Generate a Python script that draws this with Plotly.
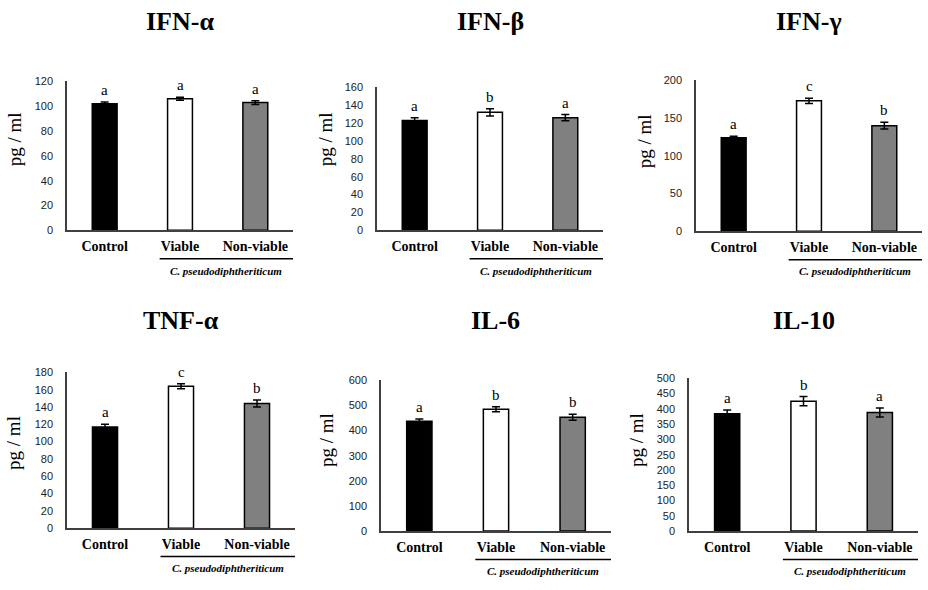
import plotly.graph_objects as go
from plotly.subplots import make_subplots

# data
groups = ["Control", "Viable", "Non-viable"]
cytokines = ["IFN-α", "IFN-β", "IFN-γ", "TNF-α", "IL-6", "IL-10"]
ifn_a = [102, 106, 103]
ifn_a_err = [1.5, 1.2, 1.5]
ifn_b = [123, 132, 126]
ifn_b_err = [3, 4, 3.5]
ifn_g = [124, 173, 140]
ifn_g_err = [2, 3.5, 4.5]
tnf_a = [117, 164, 144]
tnf_a_err = [3, 3, 4]
il6 = [437, 485, 453]
il6_err = [9, 10, 12]
il10 = [384, 425, 388]
il10_err = [12, 15, 15]
letters = [["a", "a", "a"], ["a", "b", "a"], ["a", "c", "b"],
           ["a", "c", "b"], ["a", "b", "b"], ["a", "b", "a"]]
y_max = [120, 160, 200, 180, 600, 500]
y_step = [20, 20, 50, 20, 100, 50]
values = [ifn_a, ifn_b, ifn_g, tnf_a, il6, il10]
errors = [ifn_a_err, ifn_b_err, ifn_g_err, tnf_a_err, il6_err, il10_err]

W, H = 928, 590
# plot boxes in pixels: left, right, top, bottom, title y
boxes = [(67, 293, 77, 229, 16), (377, 603, 83, 229, 16), (696, 922, 76, 230, 16),
         (67, 295, 374, 533, 321), (381, 611, 382, 536, 321), (689, 918, 380, 536, 321)]
# y label centres in pixels
ylab_pos = [(14, 136), (325, 136), (644, 138), (14, 446), (327, 443), (637, 443)]

SERIF = "Liberation Serif"
SANS = "Liberation Sans"
bar_colors = ["#000000", "#ffffff", "#808080"]


def px(x):
    return x / W


def py(y):
    return 1 - y / H


fig = make_subplots(rows=2, cols=3)

for i in range(6):
    r, c = i // 3 + 1, i % 3 + 1
    left, right, top, bottom, ty = boxes[i]
    fig.add_trace(go.Bar(
        x=groups, y=values[i], width=0.33,
        marker=dict(color=bar_colors, line=dict(color="#000000", width=1.5)),
        error_y=dict(type="data", array=errors[i], color="#000000", thickness=1.5, width=4),
        showlegend=False,
    ), row=r, col=c)

    xa = "xaxis" if i == 0 else "xaxis%d" % (i + 1)
    ya = "yaxis" if i == 0 else "yaxis%d" % (i + 1)
    fig.layout[xa].update(
        domain=[px(left), px(right)], showline=True, linecolor="#404040", linewidth=1.5,
        ticks="", showgrid=False, zeroline=False, ticklabelstandoff=2,
        tickfont=dict(family=SERIF, size=14, color="#000000", weight="bold"),
    )
    fig.layout[ya].update(
        domain=[py(bottom), py(top)], range=[0, y_max[i]], dtick=y_step[i],
        showline=True, linecolor="#404040", linewidth=1.5, ticks="", showgrid=False,
        zeroline=False, ticklabelstandoff=10,
        tickfont=dict(family=SANS, size=11, color="#222222"),
    )

    xref = "x" if i == 0 else "x%d" % (i + 1)
    yref = "y" if i == 0 else "y%d" % (i + 1)
    # significance letters
    for j in range(3):
        fig.add_annotation(x=groups[j], y=values[i][j] + errors[i][j], xref=xref, yref=yref,
                           text=letters[i][j], showarrow=False, yanchor="bottom", yshift=2,
                           font=dict(family=SERIF, size=15, color="#000000"))
    # panel title
    fig.add_annotation(x=px((left + right) / 2), y=py(ty), xref="paper", yref="paper",
                       text="<b>%s</b>" % cytokines[i], showarrow=False,
                       xanchor="center", yanchor="middle",
                       font=dict(family=SERIF, size=26, color="#000000"))
    # y label
    lx, ly = ylab_pos[i]
    fig.add_annotation(x=px(lx), y=py(ly), xref="paper", yref="paper",
                       text="pg / ml", textangle=-90, showarrow=False,
                       xanchor="center", yanchor="middle",
                       font=dict(family=SERIF, size=19, color="#000000"))
    # bracket under viable / non-viable
    x0 = left + 0.41 * (right - left)
    fig.add_shape(type="line", xref="paper", yref="paper",
                  x0=px(x0), x1=px(right), y0=py(bottom + 29), y1=py(bottom + 29),
                  line=dict(color="#000000", width=1.5))
    fig.add_annotation(x=px((x0 + right) / 2), y=py(bottom + 41), xref="paper", yref="paper",
                       text="<b><i>C. pseudodiphtheriticum</i></b>", showarrow=False,
                       xanchor="center", yanchor="middle",
                       font=dict(family=SERIF, size=11, color="#000000"))

fig.update_layout(width=W, height=H, margin=dict(l=0, r=0, t=0, b=0),
                  plot_bgcolor="white", paper_bgcolor="white", bargap=0.5)

# drop the default page margin so the figure fills the window exactly
fig.write_html("out.html", config={"displayModeBar": False},
               post_script="document.body.style.margin = '0px';")
